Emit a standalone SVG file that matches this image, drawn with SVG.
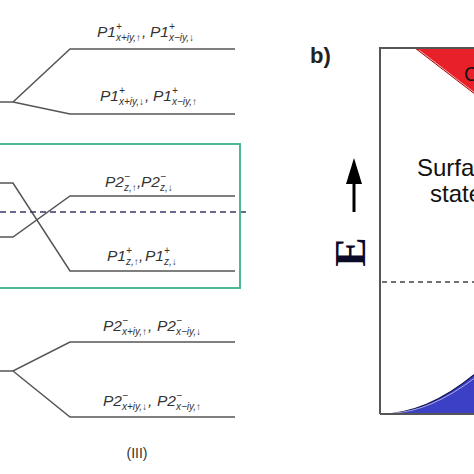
<svg xmlns="http://www.w3.org/2000/svg" width="474" height="474" viewBox="0 0 474 474">
<style>
.lv{fill:none;stroke:#555;stroke-width:1.5}
.lb{font-family:"Liberation Sans",Arial,sans-serif;font-style:italic;fill:#333;font-size:15.5px}
.sp{font-family:"Liberation Sans",Arial,sans-serif;font-style:italic;fill:#333;font-size:10px}
</style>
<rect width="474" height="474" fill="#fff"/>
<g id="connectors">
<polyline class="lv" points="0,102 13,102 70,49 235,49"/>
<polyline class="lv" points="13,102 70,114 235,114"/>
<polyline class="lv" points="0,183 13,183 70,271 235,271"/>
<polyline class="lv" points="0,237 13,237 70,196 235,196"/>
<polyline class="lv" points="0,371 13,371 70,342 235,342"/>
<polyline class="lv" points="13,371 70,417 235,417"/>
<line x1="0" y1="212" x2="250" y2="212" stroke="#3a3a6a" stroke-width="1.3" stroke-dasharray="6 4"/>
</g>
<g id="box"><rect x="-5" y="144" width="245" height="144" fill="none" stroke="#4db892" stroke-width="2"/></g>
<g id="labelA">
<text class="lb" x="97" y="37">P1</text><text class="sp" x="116" y="30">+</text><text class="sp" x="116" y="41">x+iy,↑</text>
<text class="lb" x="142" y="37">,</text>
<text class="lb" x="150" y="37">P1</text><text class="sp" x="169" y="30">+</text><text class="sp" x="169" y="41">x−iy,↓</text>
</g>
<g id="labelB">
<text class="lb" x="100" y="101">P1</text><text class="sp" x="119" y="94">+</text><text class="sp" x="119" y="105">x+iy,↓</text>
<text class="lb" x="145" y="101">,</text>
<text class="lb" x="153" y="101">P1</text><text class="sp" x="172" y="94">+</text><text class="sp" x="172" y="105">x−iy,↑</text>
</g>
<g id="labelC">
<text class="lb" x="105" y="187">P2</text><text class="sp" x="124" y="180">−</text><text class="sp" x="124" y="191">z,↑</text>
<text class="lb" x="137" y="187">,</text>
<text class="lb" x="141" y="187">P2</text><text class="sp" x="160" y="180">−</text><text class="sp" x="160" y="191">z,↓</text>
</g>
<g id="labelD">
<text class="lb" x="107" y="261">P1</text><text class="sp" x="126" y="254">+</text><text class="sp" x="126" y="265">z,↑</text>
<text class="lb" x="139" y="261">,</text>
<text class="lb" x="145" y="261">P1</text><text class="sp" x="164" y="254">+</text><text class="sp" x="164" y="265">z,↓</text>
</g>
<g id="labelE">
<text class="lb" x="103" y="331">P2</text><text class="sp" x="122" y="324">−</text><text class="sp" x="122" y="335">x+iy,↑</text>
<text class="lb" x="148" y="331">,</text>
<text class="lb" x="157" y="331">P2</text><text class="sp" x="176" y="324">−</text><text class="sp" x="176" y="335">x−iy,↓</text>
</g>
<g id="labelF">
<text class="lb" x="103" y="406">P2</text><text class="sp" x="122" y="399">−</text><text class="sp" x="122" y="410">x+iy,↓</text>
<text class="lb" x="148" y="406">,</text>
<text class="lb" x="157" y="406">P2</text><text class="sp" x="176" y="399">−</text><text class="sp" x="176" y="410">x−iy,↑</text>
</g>
<text x="137" y="458" text-anchor="middle" font-family="Liberation Sans,Arial,sans-serif" font-size="14" fill="#333">(III)</text>
<g id="panelB">
<text x="310" y="63" font-family="Liberation Sans,Arial,sans-serif" font-weight="bold" font-size="22" fill="#222">b)</text>
<path d="M415,48 L480,48 L480,98 Z" fill="#e8202a" stroke="#a01010" stroke-width="1"/>
<line x1="419" y1="50" x2="480" y2="97" stroke="#fff" stroke-width="0.8" opacity="0.8"/>
<text x="464" y="81" font-family="Liberation Sans,Arial,sans-serif" font-size="20" fill="#111">C</text>
<path d="M380,414 Q427,414 476,373 L476,414 Z" fill="#3c40c4" stroke="#101050" stroke-width="1.2"/>
<path d="M392,413 Q430,412 476,377" fill="none" stroke="#fff" stroke-width="0.8" opacity="0.7"/>
<polyline points="380,414 380,48 476,48" fill="none" stroke="#555" stroke-width="2"/>
<line x1="380" y1="414" x2="476" y2="414" stroke="#555" stroke-width="2"/>
<line x1="382" y1="282" x2="474" y2="282" stroke="#444" stroke-width="1.5" stroke-dasharray="5 4"/>
<line x1="354" y1="212" x2="354" y2="180" stroke="#000" stroke-width="3"/>
<polygon points="354,158 346,184 362,184" fill="#000"/>
<text transform="translate(365,252) rotate(-90)" text-anchor="middle" font-family="Liberation Serif,Times New Roman,serif" font-weight="bold" font-size="44" fill="#0a0a28">E</text>
<text x="417" y="176" font-family="Liberation Sans,Arial,sans-serif" font-size="24" fill="#111">Surface</text>
<text x="430" y="202" font-family="Liberation Sans,Arial,sans-serif" font-size="24" fill="#111">states</text>
</g>
</svg>
